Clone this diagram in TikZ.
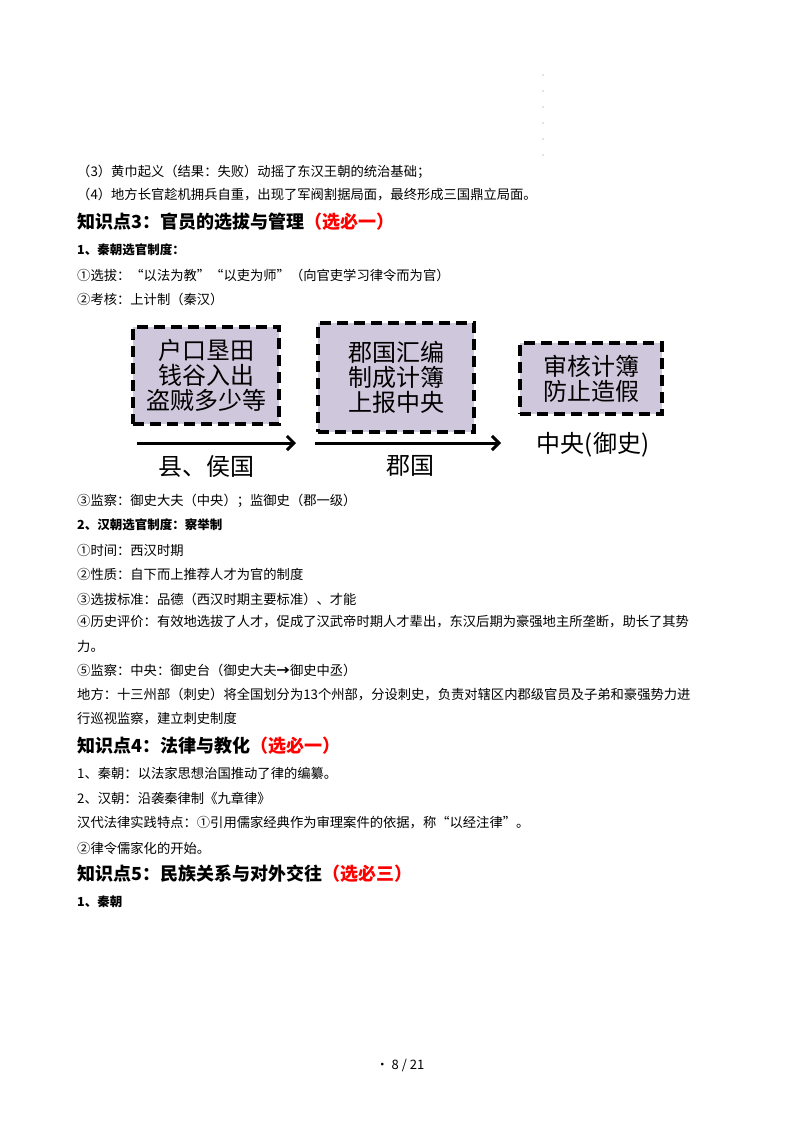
\documentclass[tikz,border=0pt]{standalone}
\usepackage{fontspec}
\usetikzlibrary{arrows.meta}
\setmainfont{Noto Sans CJK SC}
\begin{document}
\begin{tikzpicture}[x=1pt,y=-1pt,
  t/.style={anchor=west,inner sep=0pt,font=\fontsize{13.3}{15}\selectfont},
  h/.style={anchor=west,inner sep=0pt,font=\fontsize{18}{20}\selectfont\bfseries},
  s/.style={anchor=west,inner sep=0pt,font=\fontsize{12.5}{14}\selectfont\bfseries},
  box/.style={draw=black,line width=3.2pt,dash pattern=on 11pt off 6pt,fill=boxfill,inner sep=0pt,align=center,font=\fontsize{24}{28}\selectfont},
  big/.style={inner sep=0pt,font=\fontsize{24}{28}\selectfont},
  arr/.style={line width=3pt,-{Straight Barb[length=7pt,width=14pt]}}]
\definecolor{boxfill}{HTML}{CFC7DC}
\useasboundingbox (0,0) rectangle (800,1132);
\foreach \yy in {75,91,107,123,139,155} \fill[gray] (543,\yy) circle (0.6pt);
\node[t] (l1) at (77,172) {（3）黄巾起义（结果：失败）动摇了东汉王朝的统治基础；};
\node[t] (l2) at (77,195) {（4）地方长官趁机拥兵自重，出现了军阀割据局面，最终形成三国鼎立局面。};
\node[h] (h3) at (77,222) {知识点3：官员的选拔与管理\textcolor{red}{（选必一）}};
\node[s] (s1) at (77,250) {1、秦朝选官制度：};
\node[t] (l3) at (77,275) {①选拔：“以法为教”“以吏为师”（向官吏学习律令而为官）};
\node[t] (l4) at (77,299) {②考核：上计制（秦汉）};
% diagram
\node[box,minimum width=146pt,minimum height=97pt] (b1) at (206,375.5) {户口垦田\\[-3pt]钱谷入出\\[-3pt]盗贼多少等};
\node[box,minimum width=156pt,minimum height=109pt] (b2) at (396,377.5) {郡国汇编\\[-3pt]制成计簿\\[-3pt]上报中央};
\node[box,minimum width=142pt,minimum height=71pt] (b3) at (591,378.5) {审核计簿\\[-3pt]防止造假};
\coordinate (a1s) at (137,443); \coordinate (a1e) at (296,443);
\coordinate (a2s) at (315,443); \coordinate (a2e) at (501,443);
\draw[arr] (a1s) -- (a1e);
\draw[arr] (a2s) -- (a2e);
\node[big] (c1) at (206,466) {县、侯国};
\node[big] (c2) at (410,466) {郡国};
\node[big] (c3) at (593,445) {中央(御史)};
\node[t] (l5) at (77,501) {③监察：御史大夫（中央）；监御史（郡一级）};
\node[s] (s2) at (77,525) {2、汉朝选官制度：察举制};
\node[t] (l6) at (77,550) {①时间：西汉时期};
\node[t] (l7) at (77,574) {②性质：自下而上推荐人才为官的制度};
\node[t] (l8) at (77,599) {③选拔标准：品德（西汉时期主要标准）、才能};
\node[t] (l9) at (77,622) {④历史评价：有效地选拔了人才，促成了汉武帝时期人才辈出，东汉后期为豪强地主所垄断，助长了其势};
\node[t] (l10) at (77,646) {力。};
\node[t] (l11) at (77,670) {⑤监察：中央：御史台（御史大夫{\bfseries →}御史中丞）};
\node[t] (l12) at (77,695) {地方：十三州部（刺史）将全国划分为13个州部，分设刺史，负责对辖区内郡级官员及子弟和豪强势力进};
\node[t] (l13) at (77,719) {行巡视监察，建立刺史制度};
\node[h] (h4) at (77,746) {知识点4：法律与教化\textcolor{red}{（选必一）}};
\node[t] (l14) at (77,773) {1、秦朝：以法家思想治国推动了律的编纂。};
\node[t] (l15) at (77,798) {2、汉朝：沿袭秦律制《九章律》};
\node[t] (l16) at (77,823) {汉代法律实践特点：①引用儒家经典作为审理案件的依据，称“以经注律”。};
\node[t] (l17) at (77,848) {②律令儒家化的开始。};
\node[h] (h5) at (77,874) {知识点5：民族关系与对外交往\textcolor{red}{（选必三）}};
\node[s] (s3) at (77,902) {1、秦朝};
\node[inner sep=0pt,font=\fontsize{13}{15}\selectfont] (pg) at (400,1065) {· 8 / 21};
\end{tikzpicture}
\end{document}
